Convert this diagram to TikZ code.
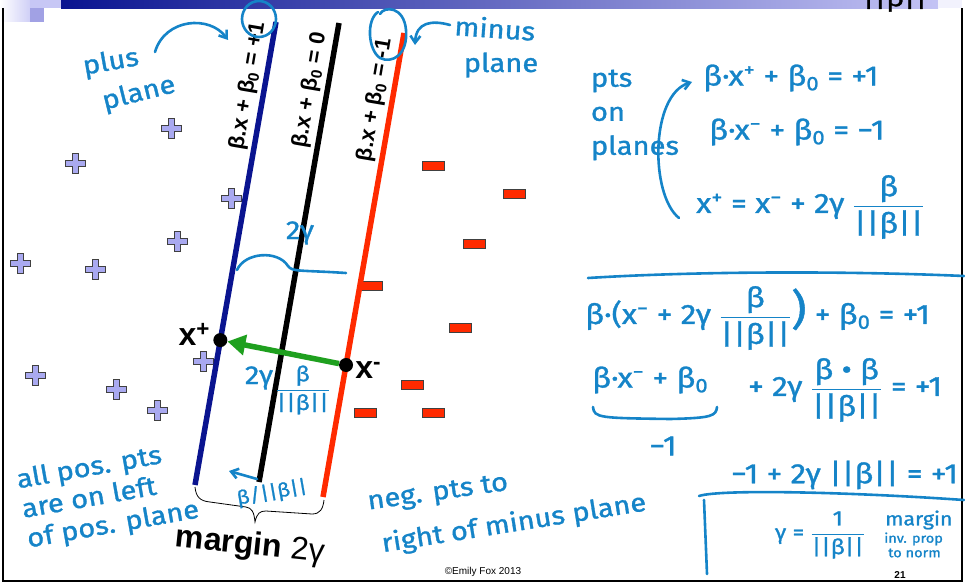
\documentclass[tikz,border=0pt]{standalone}
\usepackage{amsmath}
\usepackage{fontspec}
\setmainfont{Liberation Sans}
\newfontfamily\kezfont{Fira Sans}[FakeStretch=1.12,FakeBold=1.2]
\usetikzlibrary{arrows.meta,positioning,calc}
\definecolor{tinta}{HTML}{1584C8}
\definecolor{sotetkek}{HTML}{0A1490}
\definecolor{piros}{HTML}{FF2A00}
\definecolor{lila}{HTML}{A9A9F0}
\definecolor{zold}{HTML}{1FA01F}
\newcommand\htort[2]{$\dfrac{\text{#1}}{\text{#2}}$}
\tikzset{
  kez/.style={draw=tinta,line width=2.6pt,line cap=round,line join=round},
  kezny/.style={kez,-{Straight Barb[length=7pt,width=10pt]}},
  kezir/.style={text=tinta,inner sep=0pt,font=\kezfont\fontsize{26}{30}\selectfont},
  egyenlet/.style={kezir,anchor=west,font=\kezfont\fontsize{28}{30}\selectfont},
  kiskez/.style={kezir,font=\kezfont\fontsize{19}{20}\selectfont},
  apro/.style={kezir,anchor=west,font=\kezfont\fontsize{13}{14}\selectfont},
  sik/.style={line width=5.5pt},
  felirat/.style={inner sep=0pt,font=\bfseries\fontsize{22}{22}\selectfont},
  cimke/.style={inner sep=0pt,font=\bfseries\fontsize{32}{32}\selectfont},
  pluszjel/.style={fill=lila,draw=black!75,line width=0.8pt},
  minuszjel/.style={fill=piros,draw=black!75,line width=0.8pt},
  folt/.style={circle,fill=black,inner sep=0pt,minimum size=14pt},
  zoldnyil/.style={draw=zold,line width=5.5pt,-{Triangle[length=18pt,width=20pt]}},
}

\begin{document}
\begin{tikzpicture}[x=1pt,y=-1pt]
  \useasboundingbox (0,0) rectangle (965,586);
  % slide frame
  \shade[left color=white,right color=lila!55] (0,0) rectangle (30,22);
  \fill[lila!65] (30,0) rectangle (61,8);
  \fill[lila!95!black] (30,8) rectangle (44,22);
  \shade[left color=sotetkek,right color=lila!70] (61,0) rectangle (938,9);
  \fill[lila!15] (938,0) rectangle (962,8);
  \draw[line width=1.5pt] (3,8) -- (3,581) -- (962,581) -- (962,8);
  \node[kezir,text=black,anchor=south] (csonk) at (895,12) {||β||};

  % data points
  \foreach \x/\y in {171/128,75/163,231/198,177/241,20/263,95/269,203/361,35/375,116/389,157/410}
    \draw[pluszjel,shift={(\x,\y)}] (-3,-10) -- (3,-10) -- (3,-3) -- (10,-3) -- (10,3) -- (3,3)
      -- (3,10) -- (-3,10) -- (-3,3) -- (-10,3) -- (-10,-3) -- (-3,-3) -- cycle;
  \foreach \x/\y in {433/166,514/194,474/244,371/286,460/328,412/385,365/413,433/413}
    \draw[minuszjel] (\x-11,\y-4.5) rectangle (\x+11,\y+4.5);

  % planes
  \coordinate (ps1) at (276,22);  \coordinate (ps2) at (195,485);
  \coordinate (ns1) at (339,23);  \coordinate (ns2) at (259,482);
  \coordinate (ms1) at (404,33);  \coordinate (ms2) at (323,497);
  \draw[sik,sotetkek] (ps1) -- (ps2);
  \draw[sik,black] (ns1) -- (ns2);
  \draw[sik,piros] (ms1) -- (ms2);
  \node[felirat,rotate=80.4] (plab) at (248,86) {β.x + β\textsubscript{0} = +1};
  \node[felirat,rotate=80.4] (nlab) at (310,90) {β.x + β\textsubscript{0} = 0};
  \node[felirat,rotate=80.4] (mlab) at (375,100) {β.x + β\textsubscript{0} = -1};

  \node[folt] (xp) at ($(ps1)!0.687!(ps2)$) {};
  \node[folt] (xm) at ($(ms1)!0.7155!(ms2)$) {};
  \draw[zoldnyil] (xm) -- (xp);
  \node[cimke,left=3pt of xp,yshift=6pt] (xplab) {x\textsuperscript{+}};
  \node[cimke,right=2pt of xm,yshift=-5pt] (xmlab) {x\textsuperscript{-}};

  % margin brace
  \draw[line width=0.8pt] (195,487) .. controls (196,497) and (200,501) .. (210,502)
    -- (246,507) .. controls (252,508) and (254,512) .. (255,522)
    .. controls (257,513) and (260,511) .. (266,511) -- (312,514)
    .. controls (320,514) and (323,509) .. (324,500);
  \node[cimke,rotate=-6] (margo) at (250,546) {margin {\mdseries 2γ}};

  % notes on the picture
  \draw[kez] (259,19) ellipse [x radius=17,y radius=18];
  \draw[kez] (380,14) .. controls (384,6) and (404,6) .. (406,30)
    .. controls (408,55) and (392,64) .. (380,58) .. controls (368,50) and (366,20) .. (378,12);
  \node[kezir,rotate=10] (plus) at (111,63) {plus};
  \node[kezir,rotate=14] (plane1) at (139,94) {plane};
  \draw[kezny] (155,52) .. controls (165,18) and (210,15) .. (228,40);
  \node[kezir,rotate=-4] (minus) at (495,28) {minus};
  \node[kezir] (plane2) at (501,65) {plane};
  \draw[kezny] (450,25) .. controls (432,20) and (416,22) .. (415,45);
  \node[kezir] (ketg) at (300,233) {2γ};
  \draw[kez] (237,270) .. controls (245,252) and (278,250) .. (288,266)
    .. controls (292,272) and (300,270) .. (346,273);
  \node[kezir] (ketgb) at (259,378) {2γ};
  \node[kezir,font=\kezfont\fontsize{21}{22}\selectfont,right=2pt of ketgb,yshift=-12pt]
    (ketgt) {\htort{β}{||β||}};
  \draw[kezny] (257,479) -- (229,471);
  \node[kiskez,rotate=10] (bnorm) at (272,493) {β/||β||};
  \node[kezir,rotate=10,align=left] (pospts) at (108,496) {all pos. pts\\are on left\\of pos. plane};
  \node[kezir,rotate=8] (neg1) at (438,494) {neg. pts to};
  \node[kezir,rotate=9] (neg2) at (514,524) {right of minus plane};

  % derivation on the right
  \node[kezir,align=left,font=\kezfont\fontsize{26}{34}\selectfont] (pts) at (635,115) {pts\\on\\planes};
  \draw[kezny] (679,218) .. controls (650,195) and (650,95) .. (692,82);
  \node[egyenlet] (eq1) at (703,78) {β·x\textsuperscript{+} + β\textsubscript{0} = +1};
  \node[egyenlet] (eq2) at (709,132) {β·x\textsuperscript{−} + β\textsubscript{0} = −1};
  \node[egyenlet] (eq3) at (696,207) {x\textsuperscript{+} = x\textsuperscript{−} + 2γ \htort{β}{||β||}};
  \draw[kez] (588,278) .. controls (700,271) and (850,271) .. (964,276);
  \node[egyenlet] (eq4) at (585,318) {β·(x\textsuperscript{−} + 2γ \htort{β}{||β||}%
    {\fontsize{42}{42}\selectfont)} + β\textsubscript{0} = +1};
  \node[egyenlet] (eq5a) at (592,380) {β·x\textsuperscript{−} + β\textsubscript{0}};
  \node[egyenlet] (eq5b) at (748,390) {+ 2γ \htort{β • β}{||β||} = +1};
  \draw[kez] (593,407) .. controls (594,418) and (600,418) .. (670,419)
    .. controls (712,418) and (716,416) .. (717,407);
  \node[kezir,font=\kezfont\fontsize{28}{30}\selectfont] (minusegy) at (663,446) {−1};
  \node[egyenlet] (eq6) at (731,475) {−1 + 2γ ||β|| = +1};
  \draw[kez] (699,496) .. controls (720,489) and (850,492) .. (964,500);
  \draw[kez] (704,500) -- (707,574);
  \node[kiskez,font=\kezfont\fontsize{21}{22}\selectfont] (gamma) at (820,535) {γ = \htort{1}{||β||}};
  \node[kiskez,anchor=west] (margin) at (885,520) {margin};
  \node[apro] (invprop) at (884,539) {inv. prop};
  \node[apro] (tonorm) at (888,553) {to norm};

  % footer
  \node[inner sep=0pt,font=\fontsize{10}{10}\selectfont] (copy) at (483,572) {©Emily Fox 2013};
  \node[inner sep=0pt,font=\bfseries\fontsize{10}{10}\selectfont] (oldal) at (900,575) {21};
\end{tikzpicture}
\end{document}
